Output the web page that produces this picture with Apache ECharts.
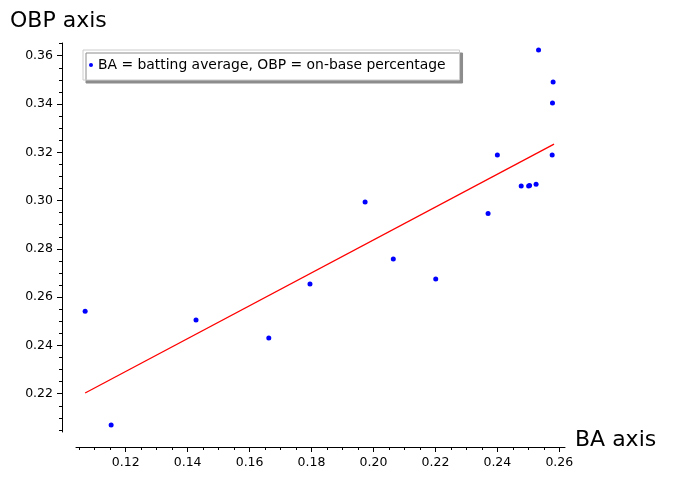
<!DOCTYPE html>
<html>
<head>
<meta charset="utf-8">
<script src="https://cdn.jsdelivr.net/npm/echarts@6/dist/echarts.min.js"></script>
<style>
html,body{margin:0;padding:0;background:#fff;}
#chart{width:674px;height:480px;}
</style>
</head>
<body>
<div id="chart"></div>
<script>
// Data
const baValues  = [0.1069, 0.1153, 0.1427, 0.1662, 0.1795, 0.1973, 0.2064, 0.2201, 0.2370, 0.2400, 0.2477, 0.2501, 0.2504, 0.2525, 0.2533, 0.2580, 0.2578, 0.2577];
const obpValues = [0.2542, 0.2070, 0.2505, 0.2431, 0.2654, 0.2994, 0.2758, 0.2675, 0.2946, 0.3189, 0.3060, 0.3060, 0.3062, 0.3068, 0.3624, 0.3491, 0.3404, 0.3189];
const fitX = [0.1069, 0.2583];
const fitY = [0.2203, 0.3234];
const xTicks = [0.12, 0.14, 0.16, 0.18, 0.20, 0.22, 0.24, 0.26];
const yTicks = [0.22, 0.24, 0.26, 0.28, 0.30, 0.32, 0.34, 0.36];
const xMinorTicks = [0.105,0.110,0.115,0.125,0.130,0.135,0.145,0.150,0.155,0.165,0.170,0.175,0.185,0.190,0.195,0.205,0.210,0.215,0.225,0.230,0.235,0.245,0.250,0.255];
const yMinorTicks = [0.205,0.210,0.215,0.225,0.230,0.235,0.245,0.250,0.255,0.265,0.270,0.275,0.285,0.290,0.295,0.305,0.310,0.315,0.325,0.330,0.335,0.345,0.350,0.355,0.365];
const legendLabel = 'BA = batting average, OBP = on-base percentage';
const xName = 'BA axis';
const yName = 'OBP axis';

const X_MIN = 0.10395, X_MAX = 0.26184;
const Y_MIN = 0.20414, Y_MAX = 0.36526;
const FONT = 'DejaVu Sans';

const chart = echarts.init(document.getElementById('chart'), null, {renderer: 'canvas'});

const scatterData = baValues.map((v, i) => [v, obpValues[i]]);
const lineData = fitX.map((v, i) => [v, fitY[i]]);

const lbl = {fontFamily: FONT, fontSize: 12.5, color: '#000'};

chart.setOption({
  animation: false,
  backgroundColor: '#fff',
  grid: {left: 76, right: 109, top: 43, bottom: 48, containLabel: false},
  xAxis: [
    {
      type: 'value', min: X_MIN, max: X_MAX, position: 'bottom', offset: 15,
      axisLine: {show: true, lineStyle: {color: '#000', width: 1}},
      axisTick: {show: true, inside: false, length: 5, customValues: xTicks, lineStyle: {color: '#000'}},
      axisLabel: Object.assign({show: true, margin: 9, customValues: xTicks, formatter: v => v.toFixed(2)}, lbl),
      splitLine: {show: false}
    },
    {
      type: 'value', min: X_MIN, max: X_MAX, position: 'bottom', offset: 15,
      axisLine: {show: false},
      axisTick: {show: true, inside: false, length: 3, customValues: xMinorTicks, lineStyle: {color: '#000'}},
      axisLabel: {show: false},
      splitLine: {show: false}
    }
  ],
  yAxis: [
    {
      type: 'value', min: Y_MIN, max: Y_MAX, position: 'left', offset: 14,
      axisLine: {show: true, lineStyle: {color: '#000', width: 1}},
      axisTick: {show: true, inside: false, length: 5, customValues: yTicks, lineStyle: {color: '#000'}},
      axisLabel: Object.assign({show: true, margin: 9, customValues: yTicks, formatter: v => v.toFixed(2)}, lbl),
      splitLine: {show: false}
    },
    {
      type: 'value', min: Y_MIN, max: Y_MAX, position: 'left', offset: 14,
      axisLine: {show: false},
      axisTick: {show: true, inside: false, length: 3, customValues: yMinorTicks, lineStyle: {color: '#000'}},
      axisLabel: {show: false},
      splitLine: {show: false}
    }
  ],
  legend: {
    data: [{name: legendLabel, icon: 'circle'}],
    left: 83, top: 50,
    orient: 'horizontal',
    itemWidth: 4, itemHeight: 4, itemGap: 5,
    padding: [8, 14, 8, 6],
    backgroundColor: '#fff',
    borderColor: '#cccccc', borderWidth: 1, borderRadius: 0,
    shadowColor: '#8c8c8c', shadowBlur: 0, shadowOffsetX: 3, shadowOffsetY: 3,
    textStyle: {fontFamily: FONT, fontSize: 13.9, color: '#000', padding: [0, 0, 0, 0]}
  },
  graphic: [
    {type: 'text', left: 10, top: 10, style: {text: yName, font: '22px "DejaVu Sans"', fill: '#000'}},
    {type: 'text', left: 575, top: 429, style: {text: xName, font: '22px "DejaVu Sans"', fill: '#000'}}
  ],
  series: [
    {
      name: 'fit', type: 'line', xAxisIndex: 0, yAxisIndex: 0,
      data: lineData, showSymbol: false, symbol: 'none',
      lineStyle: {color: '#ff0000', width: 1.3}, z: 2, silent: true
    },
    {
      name: legendLabel, type: 'scatter', xAxisIndex: 0, yAxisIndex: 0,
      data: scatterData, symbol: 'circle', symbolSize: 5,
      itemStyle: {color: '#0000ff', opacity: 1}, z: 3
    }
  ]
});
</script>
</body>
</html>
